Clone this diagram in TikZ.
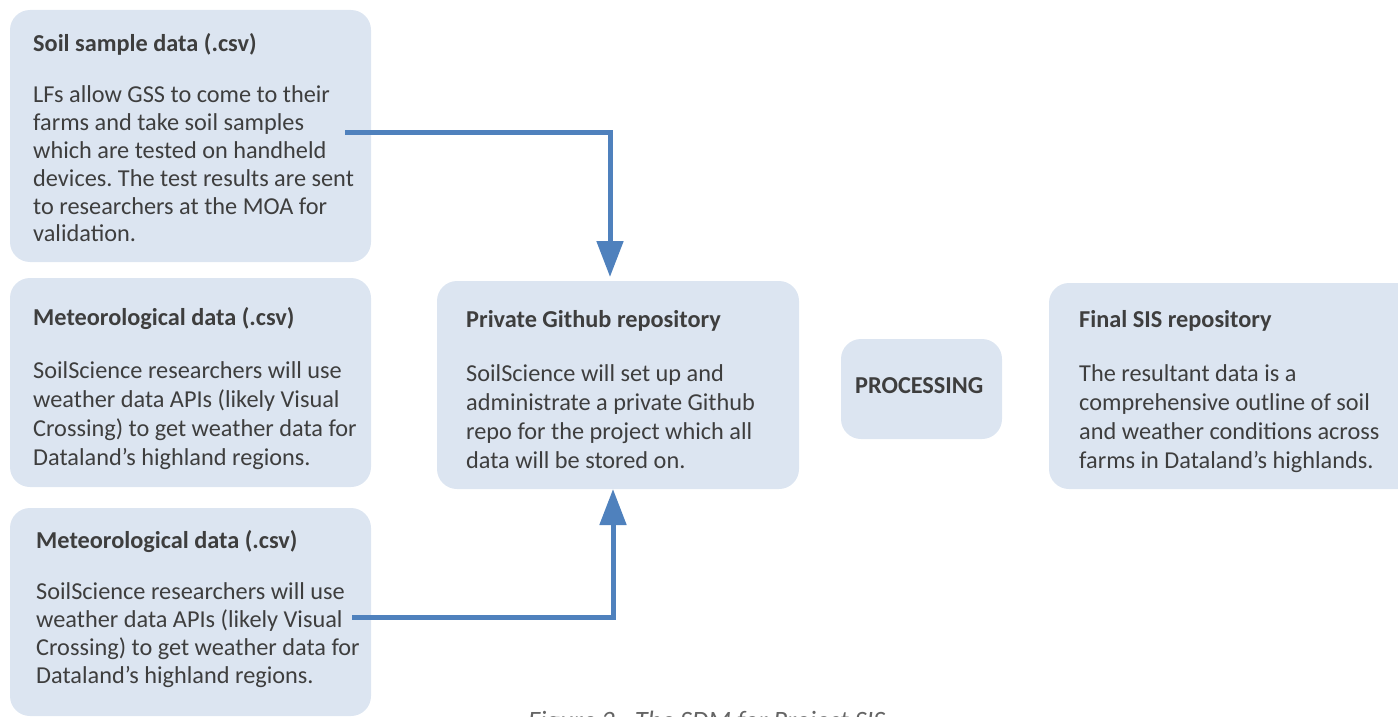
\documentclass[tikz,border=0pt]{standalone}
\usepackage{fontspec}
\setmainfont{Carlito}
\usetikzlibrary{arrows.meta}
\definecolor{boxfill}{RGB}{220,229,241}
\definecolor{arrblue}{RGB}{79,129,189}
\definecolor{txtgray}{RGB}{62,62,62}
\frenchspacing
\newcommand{\bt}[4]{\parbox[t]{360pt}{\fontsize{24.3}{#1}\selectfont\textbf{#3}\\[#2]#4}}
\begin{document}
\begin{tikzpicture}[x=1pt,y=-1pt,
  box/.style={fill=boxfill, draw=none, rounded corners=20pt, anchor=north west, inner sep=0pt, outer sep=0pt},
  txt/.style={anchor=base west, inner sep=0pt, text=txtgray, font=\fontsize{24.3}{28.4}\selectfont, align=left},
  arr/.style={draw=arrblue, line width=5pt, -{Triangle[length=36pt,width=26pt]}}]
\useasboundingbox (0,0) rectangle (1398,717);
% boxes
\node[box, minimum width=361pt, minimum height=252pt] (b1) at (10,10) {};
\node[box, minimum width=361pt, minimum height=209pt] (b2) at (10,278) {};
\node[box, minimum width=361pt, minimum height=208pt] (b3) at (10,508) {};
\node[box, minimum width=362pt, minimum height=208pt] (gh) at (437,281) {};
\node[box, minimum width=161pt, minimum height=100pt] (proc) at (841,339) {};
\node[box, minimum width=371pt, minimum height=206pt] (fin) at (1049,283) {};
% texts
\node[txt] (t1) at (33,52) {\bt{27.8pt}{23.2pt}{Soil sample data (.csv)}{%
LFs allow GSS to come to their\\farms and take soil samples\\which are tested on handheld\\devices. The test results are sent\\to researchers at the MOA for\\validation.}};
\node[txt] (t2) at (33,325) {\bt{29.2pt}{23.8pt}{Meteorological data (.csv)}{%
SoilScience researchers will use\\weather data APIs (likely Visual\\Crossing) to get weather data for\\Dataland’s highland regions.}};
\node[txt] (t3) at (36,548) {\bt{28.3pt}{22.7pt}{Meteorological data (.csv)}{%
SoilScience researchers will use\\weather data APIs (likely Visual\\Crossing) to get weather data for\\Dataland’s highland regions.}};
\node[txt] (t4) at (466,327) {\bt{29.3pt}{24.7pt}{Private Github repository}{%
SoilScience will set up and\\administrate a private Github\\repo for the project which all\\data will be stored on.}};
\node[txt] (t5) at (855,393) {\textbf{PROCESSING}};
\node[txt] (t6) at (1079,327) {\bt{29.3pt}{24.7pt}{Final SIS repository}{%
The resultant data is a\\comprehensive outline of soil\\and weather conditions across\\farms in Dataland’s highlands.}};
% caption (cut off at the lower edge, as in the reference)
\node[anchor=base west, inner sep=0pt, text=txtgray!80, font=\fontsize{26.5}{30}\selectfont\itshape] (cap) at (528,729) {Figure 2 - The SDM for Project SIS};
% arrows
\coordinate (a1s) at (345,132);
\coordinate (a1c) at (610,132);
\draw[arr] (a1s) -- (a1c) -- ([yshift=4pt]a1c |- gh.north);
\coordinate (a2s) at (352,617);
\coordinate (a2c) at (613,617);
\draw[arr] (a2s) -- (a2c) -- (a2c |- gh.south);
\end{tikzpicture}
\end{document}
